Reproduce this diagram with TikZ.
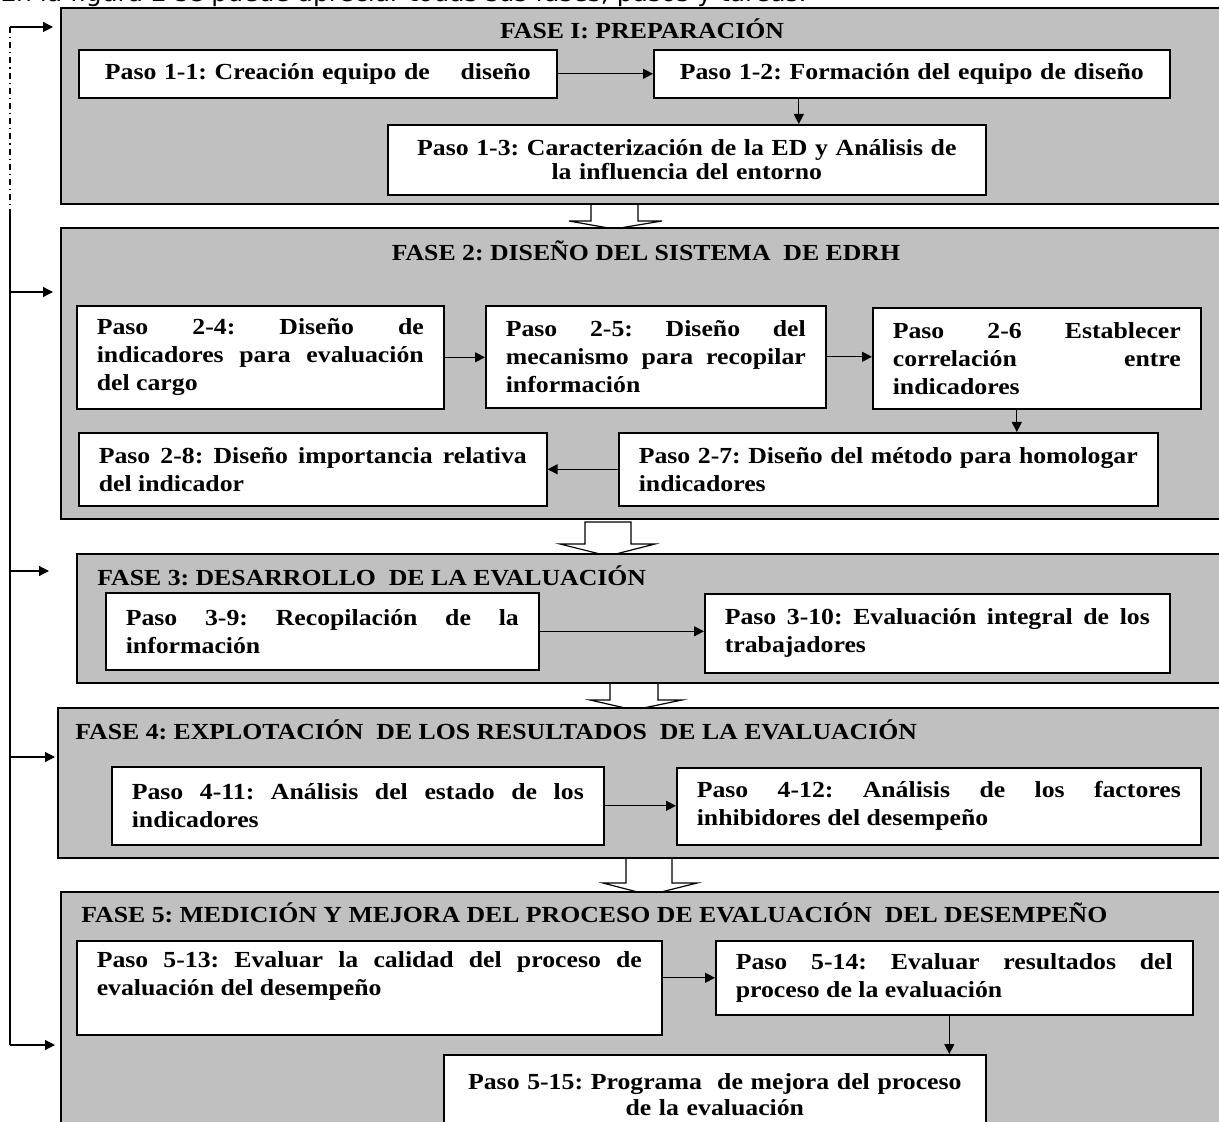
\documentclass[tikz,border=0pt]{standalone}
\usepackage{fontspec}
\setmainfont{Liberation Serif}[FakeStretch=1.12]
\newfontfamily\textosans{DejaVu Sans}
\usetikzlibrary{arrows.meta}
\definecolor{grisfase}{HTML}{C0C0C0}
\hbadness=10000
\frenchspacing

\tikzset{
  fase/.style={draw=black, fill=grisfase, line width=0.8pt, anchor=north west, inner sep=0pt},
  paso/.style={draw=black, fill=white, line width=0.8pt, anchor=north west, inner xsep=10pt, inner ysep=2pt,
    align=justify, font=\fontsize{11.5}{14}\selectfont\bfseries},
  titulo/.style={inner sep=0pt, font=\fontsize{11.5}{14}\selectfont\bfseries},
  conn/.style={-{Triangle[length=5pt,width=5pt]}, line width=0.6pt},
  flecha/.style={draw=black, fill=white, line width=0.6pt}
}

\begin{document}
\begin{tikzpicture}[x=0.5pt, y=-0.5pt]

  \useasboundingbox (0,0) rectangle (1219,1122);
  \clip (0,0) rectangle (1219,1122);

  \node[font=\textosans\fontsize{12.5}{14}\selectfont, anchor=base west, inner sep=0pt] (intro) at (0,2)
    {En la figura 2 se puede apreciar todas sus fases, pasos y tareas.};

  % flechas anchas entre fases
  \path[flecha] (591,195) -- (591,221) -- (569,221) -- (614,229) -- (662,221) -- (638,221) -- (638,195) -- cycle;
  \path[flecha] (585,522) -- (585,544) -- (560,544) -- (608,556) -- (655,544) -- (631,544) -- (631,522) -- cycle;
  \path[flecha] (610,675) -- (610,700) -- (590,700) -- (634,710) -- (682,700) -- (658,700) -- (658,675) -- cycle;
  \path[flecha] (626,850) -- (626,883) -- (603,883) -- (649,895) -- (697,883) -- (672,883) -- (672,850) -- cycle;

  \node[fase, minimum width=579.5pt, minimum height=98pt] (f1) at (60,7) {};
  \node[fase, minimum width=579.5pt, minimum height=145.5pt] (f2) at (60,227) {};
  \node[fase, minimum width=571.5pt, minimum height=64.5pt] (f3) at (76,553) {};
  \node[fase, minimum width=581pt, minimum height=75pt] (f4) at (57,707) {};
  \node[fase, minimum width=579.5pt, minimum height=120pt] (f5) at (60,891) {};

  \node[titulo, anchor=base] (t1) at (642,39) {FASE I: PREPARACIÓN};
  \node[titulo, anchor=base] (t2) at (646,261) {FASE 2: DISEÑO DEL SISTEMA~ DE EDRH};
  \node[titulo, anchor=base west] (t3) at (97,585) {FASE 3: DESARROLLO~ DE LA EVALUACIÓN};
  \node[titulo, anchor=base west] (t4) at (75,739) {FASE 4: EXPLOTACIÓN~ DE LOS RESULTADOS~ DE LA EVALUACIÓN};
  \node[titulo, anchor=base west] (t5) at (81,922) {FASE 5: MEDICIÓN Y MEJORA DEL PROCESO DE EVALUACIÓN~ DEL DESEMPEÑO};

  \node[paso, align=center, text width=219pt, minimum height=24pt] (p11) at (78,49) {Paso 1-1: Creación equipo de~~~ diseño};
  \node[paso, align=center, text width=238pt, minimum height=24pt] (p12) at (653,49) {Paso 1-2: Formación del equipo de diseño};
  \node[paso, align=center, text width=279pt, minimum height=35pt, font=\fontsize{11.5}{12}\selectfont\bfseries] (p13) at (387,124)
    {Paso 1-3: Caracterización de la ED y Análisis de\\ la influencia del entorno};

  \node[paso, text width=163.5pt, minimum height=51.5pt] (p24) at (76,305)
    {Paso 2-4: Diseño de\linebreak indicadores para evaluación\linebreak del cargo};
  \node[paso, text width=150pt, minimum height=51pt] (p25) at (485,305)
    {Paso 2-5: Diseño del\linebreak mecanismo para recopilar\linebreak información};
  \node[paso, text width=144pt, minimum height=50.5pt] (p26) at (872,307)
    {Paso 2-6 Establecer\linebreak correlación entre\linebreak indicadores};
  \node[paso, text width=214pt, minimum height=36.5pt] (p28) at (78,432)
    {Paso 2-8: Diseño importancia relativa\linebreak del indicador};
  \node[paso, text width=249.5pt, minimum height=36.5pt] (p27) at (618,432)
    {Paso 2-7: Diseño del método para homologar\linebreak indicadores};

  \node[paso, text width=196.5pt, minimum height=38.5pt] (p39) at (105,592)
    {Paso 3-9: Recopilación de la\linebreak información};
  \node[paso, text width=212.5pt, minimum height=39.5pt] (p310) at (704,593)
    {Paso 3-10: Evaluación integral de los\linebreak trabajadores};

  \node[paso, text width=226pt, minimum height=39pt] (p411) at (111,766)
    {Paso 4-11: Análisis del estado de los\linebreak indicadores};
  \node[paso, text width=242pt, minimum height=38.5pt] (p412) at (676,767)
    {Paso 4-12: Análisis de los factores\linebreak inhibidores del desempeño};

  \node[paso, text width=272.5pt, minimum height=47pt] (p513) at (76,940)
    {Paso 5-13: Evaluar la calidad del proceso de\linebreak evaluación del desempeño\newline\mbox{}};
  \node[paso, text width=218.5pt, minimum height=37pt] (p514) at (715,940)
    {Paso 5-14: Evaluar resultados del\linebreak proceso de la evaluación};
  \node[paso, align=center, text width=251pt, minimum height=40pt, font=\fontsize{11.5}{13}\selectfont\bfseries] (p515) at (443,1054)
    {Paso 5-15: Programa~ de mejora del proceso\\ de la evaluación};

  \draw[conn] (p11.east) -- (p12.west);
  \draw[conn] ([xshift=-56.5pt]p12.south) -- ([xshift=-56.5pt]p12.south |- p13.north);
  \draw[conn] (p24.east) -- (p24.east -| p25.west);
  \draw[conn] (p25.east) -- (p25.east -| p26.west);
  \draw[conn] ([xshift=-10pt]p26.south) -- ([xshift=-10pt]p26.south |- p27.north);
  \draw[conn] (p27.west) -- (p27.west -| p28.east);
  \draw[conn] (p39.east) -- (p39.east -| p310.west);
  \draw[conn] (p411.east) -- (p411.east -| p412.west);
  \draw[conn] (p514.west -| p513.east) -- (p514.west);
  \draw[conn] ([xshift=-2.5pt]p514.south) -- ([xshift=-2.5pt]p514.south |- p515.north);

  % retorno a cada fase
  \coordinate (r1) at (10,27);
  \coordinate (rq) at (10,212);
  \coordinate (r2) at (10,292);
  \coordinate (r3) at (10,571);
  \coordinate (r4) at (10,757);
  \coordinate (r5) at (10,1045);
  \draw[line width=0.6pt, dashdotted] (r1) -- (rq);
  \draw[line width=0.6pt] (rq) -- (r5);
  \foreach \r/\f/\s in {r1/f1/3.5pt, r2/f2/3.5pt, r3/f3/13.5pt, r4/f4/1pt, r5/f5/2.5pt}{
    \draw[conn, shorten >=\s] (\r) -- (\r -| \f.west);
  }

\end{tikzpicture}
\end{document}
